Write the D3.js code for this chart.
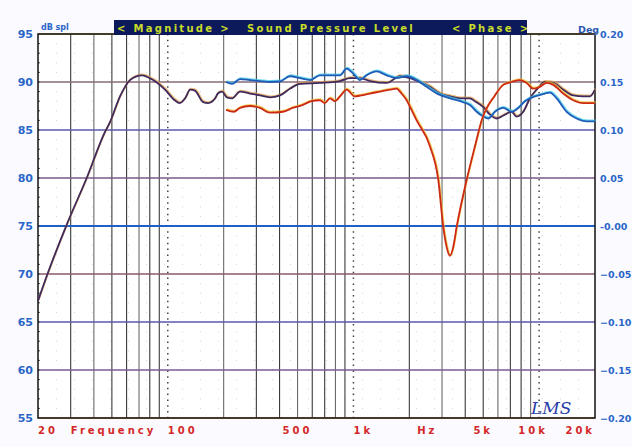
<!DOCTYPE html>
<html>
<head>
<meta charset="utf-8">
<script src="https://cdn.jsdelivr.net/npm/d3@7"></script>
<style>
  body { margin: 0; background: #fafaff; }
  text { font-family: "DejaVu Sans", sans-serif; font-weight: bold; }
</style>
</head>
<body>
<div id="chart"></div>
<script>
// values (Hz, dB spl)
var purpleFreq = [20, 22.6, 28.5, 36.6, 45.9, 48.8, 55.3, 62.6, 72.4, 83.3, 96.6, 109, 116, 124, 132, 140, 155, 165, 180, 186, 196,
    208, 222, 245, 277, 314, 355, 402, 455, 515, 660, 846, 960, 1084, 1227, 1509, 1780, 2015, 2280, 2582, 2924, 3309, 3746, 4241,
    4512, 5000, 5433, 5904, 6545, 7110, 7565, 8211, 8923, 9694, 10746, 11912, 13490, 15260, 17284, 18778, 20000];
var purpleDb = [67.2, 70.1, 75.1, 80.0, 84.8, 85.8, 88.5, 90.2, 90.7, 90.2, 89.2, 88.1, 87.8, 88.3, 89.2, 89.1, 87.9, 87.8, 88.3, 88.8, 89.0,
    88.4, 88.3, 89.0, 88.8, 88.6, 88.4, 88.6, 89.3, 89.8, 89.9, 90.1, 90.4, 90.4, 90.1, 89.9, 90.6, 90.4, 90.0, 89.5, 88.8, 88.5, 88.3, 88.3,
    88.0, 87.4, 86.6, 86.2, 86.6, 86.9, 86.4, 86.9, 88.3, 89.2, 90.0, 89.9, 89.2, 88.6, 88.5, 88.5, 89.2];

var blueFreq = [206, 222, 245, 277, 314, 355, 402, 455, 515, 583, 660, 747, 846, 919, 994, 1084, 1178, 1333, 1509, 1708, 1934,
    2190, 2479, 2806, 3309, 3746, 4241, 4608, 5000, 5322, 5781, 6408, 7110, 7718, 8386, 9493, 10746, 11435, 12426, 14070, 15916, 18028, 20000];
var blueDb = [90.0, 89.8, 90.3, 90.2, 90.1, 90.0, 90.05, 90.6, 90.4, 90.2, 90.7, 90.7, 90.7, 91.4, 90.9, 90.2, 90.7, 91.1, 90.7, 90.4, 90.6,
    90.2, 89.5, 88.8, 88.3, 88.0, 87.6, 86.9, 86.4, 86.2, 86.9, 87.3, 86.9, 87.3, 88.0, 88.5, 88.8, 88.9, 88.3, 86.9, 86.2, 85.9, 85.9];

var redFreq = [206, 227, 245, 277, 314, 355, 417, 470, 530, 595, 660, 700, 747, 795, 846, 919, 1015, 1100, 1227, 1389, 1572, 1708,
    1815, 1934, 2055, 2190, 2582, 2864, 3046, 3177, 3309, 3447, 3596, 4071, 4512, 4902, 5781, 6408, 7110, 7883, 8565, 9294, 10100,
    10977, 11912, 13490, 15260, 17284, 20000];
var redDb = [87.1, 86.9, 87.3, 87.5, 87.3, 86.8, 86.9, 87.3, 87.6, 88.0, 88.1, 87.8, 88.3, 88.0, 88.5, 89.2, 88.5, 88.6, 88.8, 89.0, 89.2, 89.3,
    88.8, 88.1, 87.1, 86.0, 83.3, 79.8, 74.9, 72.8, 71.9, 72.8, 74.9, 79.8, 83.3, 86.0, 88.6, 89.7, 90.0, 90.2, 89.9, 89.3, 89.5,
    89.9, 89.7, 88.8, 88.1, 87.8, 87.8];

var dbTicks = [95, 90, 85, 80, 75, 70, 65, 60, 55];
var phaseTicks = [0.20, 0.15, 0.10, 0.05, 0, -0.05, -0.10, -0.15, -0.20];
var gridFreqs = [30, 40, 50, 60, 70, 80, 90, 200, 300, 400, 500, 600, 700, 800, 900,
    2000, 3000, 4000, 5000, 6000, 7000, 8000, 9000];
var decadeFreqs = [100, 1000, 10000];
var freqLabels = ["20", "Frequency", "100", "500", "1k", "Hz", "5k", "10k", "20k"];
var freqLabelAt = [20, 30, 100, 500, 1000, 2500, 5000, 10000, 20000];
var headerTexts = ["< Magnitude >", "Sound Pressure Level", "< Phase >"];

var W = 632, H = 447;
var svg = d3.select("#chart").append("svg")
    .attr("width", W)
    .attr("height", H);

svg.append("rect").attr("width", W).attr("height", H).attr("fill", "#fafaff");

var x = d3.scaleLog().domain([20, 20000]).range([38, 595]);
var y = d3.scaleLinear().domain([55, 95]).range([418, 34]);
var yPhase = d3.scaleLinear().domain([-0.2, 0.2]).range([418, 34]);

// plot background
svg.append("rect")
    .attr("x", x(20)).attr("y", y(95))
    .attr("width", x(20000) - x(20)).attr("height", y(55) - y(95))
    .attr("fill", "#ffffff");

// faint minor dots
var minorDb = d3.range(56, 95, 1);
svg.append("g").selectAll("line")
    .data(minorDb)
    .enter().append("line")
    .attr("x1", x(20)).attr("x2", x(20000))
    .attr("y1", d => y(d)).attr("y2", d => y(d))
    .attr("stroke", "#d4d4dc")
    .attr("stroke-width", 1)
    .attr("stroke-dasharray", "1,17");

// vertical grid
svg.append("g").selectAll("line")
    .data(gridFreqs)
    .enter().append("line")
    .attr("x1", d => x(d)).attr("x2", d => x(d))
    .attr("y1", y(95)).attr("y2", y(55))
    .attr("stroke", (d, i) => i % 3 == 1 ? "#6a6a6a" : "#3a3a3a")
    .attr("stroke-width", 1.1);

svg.append("g").selectAll("line")
    .data(decadeFreqs)
    .enter().append("line")
    .attr("x1", d => x(d)).attr("x2", d => x(d))
    .attr("y1", y(95)).attr("y2", y(55))
    .attr("stroke", "#444")
    .attr("stroke-width", 1.5)
    .attr("stroke-dasharray", "1.5,4.3");

// horizontal grid (coloured like the print)
var hColors = ["#d8a050", "#8a6a7a", "#5a58b0", "#7a5a8a", "#1f5fc8", "#8a5a6a", "#5a58b0", "#7a5a9a", "#d8a050"];
svg.append("g").selectAll("line")
    .data(dbTicks)
    .enter().append("line")
    .attr("x1", x(20)).attr("x2", x(20000))
    .attr("y1", d => y(d)).attr("y2", d => y(d))
    .attr("stroke", (d, i) => hColors[i])
    .attr("stroke-width", d => d == 75 ? 2.2 : 1.3);

// left axis small ticks
svg.append("g").selectAll("line")
    .data(minorDb)
    .enter().append("line")
    .attr("x1", x(20)).attr("x2", x(20) + 2)
    .attr("y1", d => y(d)).attr("y2", d => y(d))
    .attr("stroke", "#555");

// frame
svg.append("rect")
    .attr("x", x(20)).attr("y", y(95))
    .attr("width", x(20000) - x(20)).attr("height", y(55) - y(95))
    .attr("fill", "none")
    .attr("stroke", "#111")
    .attr("stroke-width", 1.5);

// curves
var line = d3.line()
    .x(d => x(d[0]))
    .y(d => y(d[1]))
    .curve(d3.curveMonotoneX);

var series = [
    { f: purpleFreq, v: purpleDb, c: "#3f2a5e", h: "#e0a050" },
    { f: blueFreq, v: blueDb, c: "#1f5cb8", h: "#40c8e8" },
    { f: redFreq, v: redDb, c: "#cc2a16", h: "#f0c030" }
];

series.forEach(function (s) {
    var pts = s.f.map((f, i) => [f, s.v[i]]);
    svg.append("path")
        .attr("d", line(pts))
        .attr("fill", "none")
        .attr("stroke", s.h)
        .attr("stroke-width", 2)
        .attr("opacity", 0.75)
        .attr("transform", "translate(0.6,-0.9)");
    svg.append("path")
        .attr("d", line(pts))
        .attr("fill", "none")
        .attr("stroke", s.c)
        .attr("stroke-width", 1.8);
});

// left axis labels
var leftAxis = d3.axisLeft(y).tickValues(dbTicks).tickSize(0).tickPadding(5);
var gl = svg.append("g").attr("transform", "translate(" + x(20) + ",0)").call(leftAxis);
gl.select(".domain").remove();
gl.selectAll("text")
    .attr("fill", "#2a66c8")
    .style("font-family", "DejaVu Sans")
    .style("font-weight", "bold")
    .style("font-size", "11px");

// right axis labels
var rightAxis = d3.axisRight(yPhase).tickValues(phaseTicks).tickSize(0).tickPadding(5)
    .tickFormat(d => d == 0 ? "-0.00" : d3.format(".2f")(d));
var gr = svg.append("g").attr("transform", "translate(" + x(20000) + ",0)").call(rightAxis);
gr.select(".domain").remove();
gr.selectAll("text")
    .attr("fill", "#2a66c8")
    .style("font-family", "DejaVu Sans")
    .style("font-weight", "bold")
    .style("font-size", "9.5px");

// bottom labels
var anchors = ["start", "start", "start", "middle", "start", "middle", "middle", "middle", "end"];
svg.append("g").selectAll("text")
    .data(freqLabels)
    .enter().append("text")
    .attr("x", (d, i) => x(freqLabelAt[i]) + (d == "10k" ? -6 : 0))
    .attr("y", 434)
    .attr("text-anchor", (d, i) => anchors[i])
    .attr("fill", "#d42828")
    .style("font-size", "10px")
    .style("letter-spacing", "3px")
    .text(d => d);

// header bar
svg.append("rect")
    .attr("x", 114).attr("y", 20).attr("width", 413).attr("height", 15)
    .attr("fill", "#0c1a5c");
var headerX = [117, 247, 452];
svg.append("g").selectAll("text")
    .data(headerTexts)
    .enter().append("text")
    .attr("x", (d, i) => headerX[i])
    .attr("y", 31.5)
    .attr("fill", "#c8dc28")
    .style("font-size", "10px")
    .style("letter-spacing", "2.3px")
    .text(d => d);

svg.append("text")
    .attr("x", 41).attr("y", 30)
    .attr("fill", "#2a66c8")
    .style("font-size", "8px")
    .text("dB spl");

svg.append("text")
    .attr("x", 578).attr("y", 33)
    .attr("fill", "#2a58b0")
    .style("font-size", "9.5px")
    .text("Deg");

// signature
svg.append("text")
    .attr("x", 531).attr("y", 414)
    .attr("fill", "#2a3ea8")
    .style("font-family", "DejaVu Serif")
    .style("font-style", "italic")
    .style("font-weight", "normal")
    .style("font-size", "17px")
    .text("LMS");
</script>
</body>
</html>
